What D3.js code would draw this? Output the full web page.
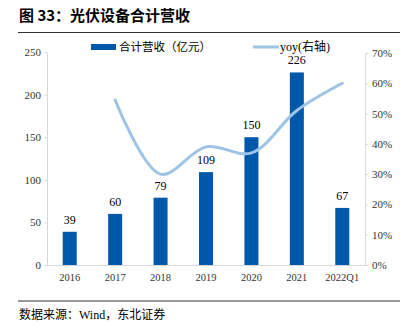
<!DOCTYPE html>
<html><head><meta charset="utf-8">
<script src="https://cdn.jsdelivr.net/npm/d3@7"></script>
<style>body{margin:0;background:#fff;}svg{display:block;}</style>
</head><body>
<script>
const categories = ["2016","2017","2018","2019","2020","2021","2022Q1"];
const revenue = [39, 60, 79, 109, 150, 226, 67];
const yoy = [null, 0.545, 0.30, 0.39, 0.37, 0.51, 0.60];
const leftTicks = [0, 50, 100, 150, 200, 250];
const rightTicks = [0, 0.1, 0.2, 0.3, 0.4, 0.5, 0.6, 0.7];
const titleText = "图 33：光伏设备合计营收";
const sourceText = "数据来源：Wind，东北证券";
const legendBar = "合计营收（亿元）";
const legendLine = "yoy(右轴)";

const W = 410, H = 329;
const font = "'Liberation Serif','Times New Roman','Noto Sans CJK SC',serif";
const cjk = "'Noto Sans CJK SC',sans-serif";
const svg = d3.select("body").append("svg").attr("width", W).attr("height", H);

// title
svg.append("text").attr("x", 19).attr("y", 21).attr("font-family", cjk)
  .attr("font-weight", "bold").attr("font-size", 15).attr("fill", "#000").text(titleText);
svg.append("line").attr("x1", 18).attr("x2", 400).attr("y1", 32.5).attr("y2", 32.5)
  .attr("stroke", "#333").attr("stroke-width", 1.2);

const x = d3.scaleBand().domain(categories).range([47, 365]).paddingInner(0).paddingOuter(0);
const yL = d3.scaleLinear().domain([0, 250]).range([265, 52]);
const yR = d3.scaleLinear().domain([0, 0.7]).range([265, 53]);

// axes
const axL = svg.append("g").attr("transform", "translate(47,0)")
  .call(d3.axisLeft(yL).tickValues(leftTicks).tickSize(3).tickPadding(3));
const axR = svg.append("g").attr("transform", "translate(365,0)")
  .call(d3.axisRight(yR).tickValues(rightTicks).tickFormat(d3.format(".0%")).tickSize(3).tickPadding(4));
const axB = svg.append("g").attr("transform", "translate(0,265)")
  .call(d3.axisBottom(x).tickSize(0).tickPadding(9));
[axL, axR, axB].forEach(a => {
  a.selectAll("path,line").attr("stroke", "#d9d9d9");
  a.selectAll("text").attr("font-family", font).attr("font-size", 11).attr("fill", "#333");
});
axB.selectAll("text").attr("font-size", 10.5);

// bars
const bw = 14;
svg.append("g").selectAll("rect").data(revenue).join("rect")
  .attr("x", (d, i) => x(categories[i]) + x.bandwidth() / 2 - bw / 2)
  .attr("width", bw)
  .attr("y", d => yL(d)).attr("height", d => yL(0) - yL(d))
  .attr("fill", "#0058AA");

// labels
svg.append("g").selectAll("text").data(revenue).join("text")
  .attr("x", (d, i) => x(categories[i]) + x.bandwidth() / 2)
  .attr("y", d => yL(d) - 8)
  .attr("text-anchor", "middle").attr("font-family", font).attr("font-size", 12).attr("fill", "#000")
  .text(d => d);

// line
const pts = yoy.map((v, i) => [x(categories[i]) + x.bandwidth() / 2, v]).filter(p => p[1] != null);
const line = d3.line().x(p => p[0]).y(p => yR(p[1])).curve(d3.curveCatmullRom.alpha(0.5));
svg.append("path").attr("d", line(pts)).attr("fill", "none")
  .attr("stroke", "#9DC3E6").attr("stroke-width", 3).attr("stroke-linecap", "round");

// legend
svg.append("rect").attr("x", 91).attr("y", 44).attr("width", 25).attr("height", 6).attr("fill", "#0058AA");
svg.append("text").attr("x", 119).attr("y", 51).attr("font-family", cjk).attr("font-size", 11.5)
  .attr("fill", "#000").text(legendBar);
svg.append("line").attr("x1", 253).attr("x2", 279).attr("y1", 47).attr("y2", 47)
  .attr("stroke", "#9DC3E6").attr("stroke-width", 3);
svg.append("text").attr("x", 280).attr("y", 51).attr("font-family", font).attr("font-size", 12)
  .attr("fill", "#000").text(legendLine);

// footer
svg.append("line").attr("x1", 18).attr("x2", 400).attr("y1", 301).attr("y2", 301)
  .attr("stroke", "#777").attr("stroke-width", 1.5);
svg.append("text").attr("x", 19).attr("y", 319).attr("font-family", font).attr("font-size", 12)
  .attr("fill", "#000").text(sourceText);
</script>
</body></html>
